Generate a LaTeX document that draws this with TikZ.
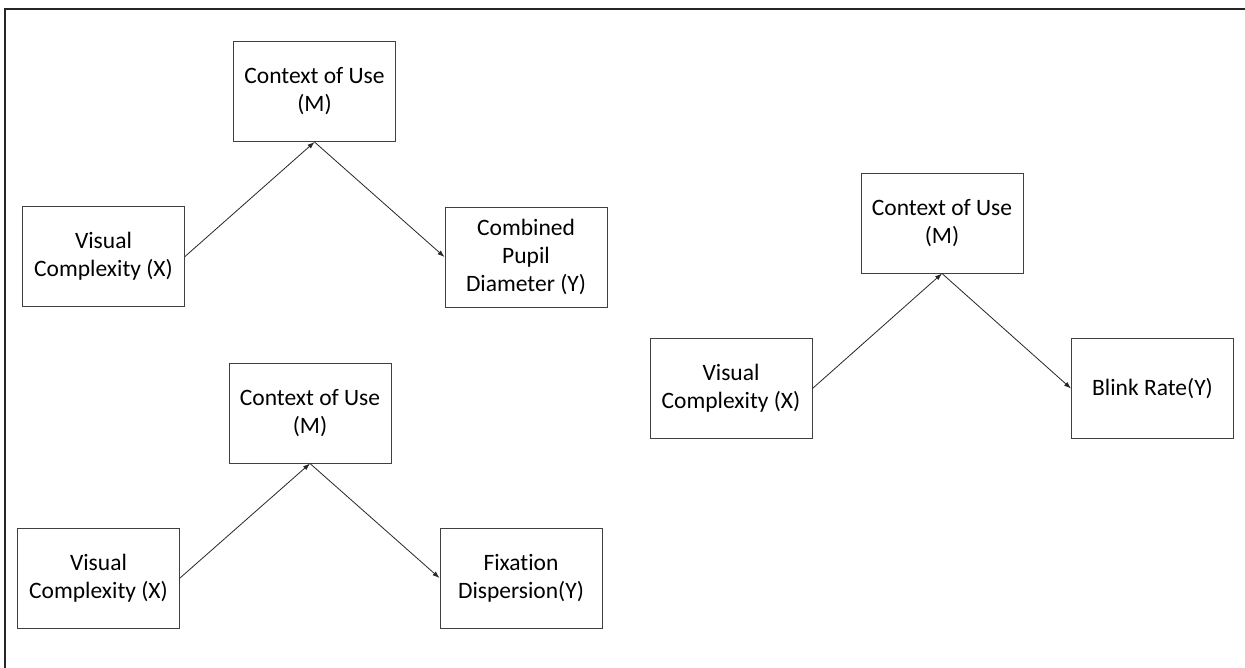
\documentclass[tikz,border=0pt]{standalone}
\usepackage{fontspec}
\setmainfont{Carlito}[Ligatures={NoCommon}]
\usetikzlibrary{arrows.meta}
\begin{document}
\begin{tikzpicture}[x=1pt,y=-1pt,
  box/.style={draw=black!75, line width=1pt, align=center, inner sep=0pt,
    minimum width=162pt, minimum height=100pt,
    font=\fontsize{23.5}{28}\selectfont},
  arr/.style={draw=black!85, line width=0.8pt, -{Latex[length=7pt,width=5pt]}}]
\useasboundingbox (0,0) rectangle (1245,667);
\draw[line width=2pt, black!85] (5,670) -- (5,9) -- (1250,9);
% group 1
\node[box] (M1) at (314.5,91.5) {Context of Use\\(M)};
\node[box] (X1) at (103.5,256.5) {Visual\\Complexity (X)};
\node[box] (Y1) at (526,257) {Combined\\Pupil\\Diameter (Y)};
\draw[arr] (X1.east) -- (M1.south);
\draw[arr] (M1.south) -- (Y1.west);
% group 2
\node[box] (M2) at (310,413) {Context of Use\\(M)};
\node[box] (X2) at (98.5,578) {Visual\\Complexity (X)};
\node[box] (Y2) at (521,578) {Fixation\\Dispersion(Y)};
\draw[arr] (X2.east) -- (M2.south);
\draw[arr] (M2.south) -- (Y2.west);
% group 3
\node[box] (M3) at (942,223) {Context of Use\\(M)};
\node[box] (X3) at (731,388.5) {Visual\\Complexity (X)};
\node[box] (Y3) at (1152.5,388.5) {Blink Rate(Y)};
\draw[arr] (X3.east) -- (M3.south);
\draw[arr] (M3.south) -- (Y3.west);
\end{tikzpicture}
\end{document}
